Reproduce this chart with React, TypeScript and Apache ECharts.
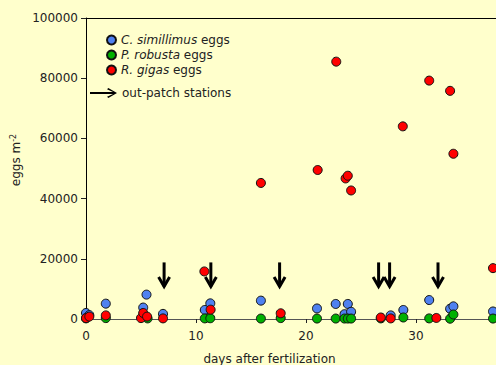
import React, { useEffect, useRef } from "react";
import * as echarts from "echarts";

// C. simillimus eggs (blue)
const cDays = [0, 0.3, 1.8, 5.2, 5.5, 7.0, 10.8, 11.3, 15.9, 21.0, 22.7, 23.5, 23.8, 24.1, 27.7, 28.85, 31.2, 33.1, 33.4, 37.0];
const cEggs = [2000, 1300, 5100, 3800, 8100, 1700, 3000, 5200, 6100, 3500, 5000, 1600, 5000, 2400, 1200, 3000, 6300, 3400, 4200, 2500];

// P. robusta eggs (green)
const pDays = [0, 1.8, 5.6, 10.8, 11.3, 15.9, 17.7, 21.0, 22.7, 23.5, 23.8, 24.1, 26.8, 28.85, 31.2, 33.1, 33.4, 37.0];
const pEggs = [200, 300, 200, 200, 250, 150, 300, 150, 150, 150, 150, 150, 200, 500, 200, 100, 1500, 150];

// R. gigas eggs (red)
const rDays = [0, 0.3, 1.8, 5.0, 5.2, 5.55, 7.0, 10.76, 11.33, 15.9, 17.7, 21.06, 22.75, 23.6, 23.8, 24.1, 26.8, 27.7, 28.8, 31.2, 31.85, 33.1, 33.4, 37.0];
const rEggs = [300, 800, 1200, 300, 2000, 800, 200, 15800, 3100, 45200, 1900, 49500, 85500, 46700, 47600, 42700, 500, 200, 64000, 79200, 350, 75800, 54900, 16900];

// out-patch stations (arrows)
const stationDays = [7.1, 11.35, 17.6, 26.6, 27.6, 32.0];
const arrowTop = 18800;
const arrowTip = 10300;

const xTicks = { min: 0, max: 40, interval: 10, lastShown: 30 };
const yTicks = { min: 0, max: 100000, interval: 20000 };

const FONT = "DejaVu Sans";
const TXT = "#222";

const zip = (xs: number[], ys: number[]) => xs.map((x, i) => [x, ys[i]]);

export default function App() {
  const ref = useRef<HTMLDivElement>(null);
  useEffect(() => {
    if (!ref.current) return;
    const chart = echarts.init(ref.current, undefined, { renderer: "svg" });
    const dot = (color: string) => ({
      color,
      borderColor: "#111",
      borderWidth: 1,
      opacity: 1,
    });
    chart.setOption({
      animation: false,
      backgroundColor: "#FFFFCC",
      textStyle: { fontFamily: FONT },
      grid: { left: 86, top: 18, width: 440, height: 301, outerBoundsMode: "none", containLabel: false },
      xAxis: [
        {
          type: "value",
          min: xTicks.min,
          max: xTicks.max,
          interval: xTicks.interval,
          splitLine: { show: false },
          axisLine: { show: true, onZero: false, lineStyle: { color: "#555", width: 1 } },
          axisTick: { show: true, length: 4, lineStyle: { color: "#222" } },
          axisLabel: {
            color: TXT,
            fontSize: 12,
            fontFamily: FONT,
            margin: 11,
            formatter: (v: number) => (v > xTicks.lastShown ? "" : String(v)),
          },
        },
        {
          type: "value",
          position: "top",
          min: xTicks.min,
          max: xTicks.max,
          splitLine: { show: false },
          axisLine: { show: true, onZero: false, lineStyle: { color: "#000", width: 1 } },
          axisTick: { show: false },
          axisLabel: { show: false },
        },
      ],
      yAxis: {
        type: "value",
        min: yTicks.min,
        max: yTicks.max,
        interval: yTicks.interval,
        splitLine: { show: false },
        axisLine: { show: true, onZero: false, lineStyle: { color: "#000", width: 1 } },
        axisTick: { show: true, length: 5, lineStyle: { color: "#222" } },
        axisLabel: {
          color: TXT,
          fontSize: 12,
          fontFamily: FONT,
          margin: 8,
          formatter: (v: number) => String(v),
        },
      },
      legend: [
        {
          orient: "vertical",
          left: 101,
          top: 29,
          itemWidth: 9,
          itemHeight: 9,
          itemGap: 3,
          icon: "circle",
          data: ["C. simillimus", "P. robusta", "R. gigas"],
          formatter: (name: string) => `{i|${name}} eggs`,
          textStyle: {
            color: TXT,
            fontSize: 12,
            fontFamily: FONT,
            rich: { i: { fontStyle: "italic", fontSize: 12, fontFamily: FONT, color: TXT } },
          },
        },
        {
          left: 85,
          top: 82,
          itemWidth: 27,
          itemHeight: 10,
          data: [
            {
              name: "out-patch stations",
              icon: "path://M0,3.9 H23 L17,1.3 L18.3,0 L27,5 L18.3,10 L17,8.7 L23,6.1 H0 Z",
            },
          ],
          textStyle: { color: TXT, fontSize: 12, fontFamily: FONT },
        },
      ],
      graphic: [
        {
          type: "text",
          x: 269.5,
          y: 359,
          style: {
            text: "days after fertilization",
            font: `12px "${FONT}"`,
            fill: TXT,
            align: "center",
            verticalAlign: "middle",
          },
        },
        {
          type: "text",
          x: 16,
          y: 160,
          rotation: Math.PI / 2,
          style: {
            text: "eggs m{sup|-2}",
            fontFamily: FONT,
            fontSize: 12,
            fill: TXT,
            align: "center",
            verticalAlign: "middle",
            rich: {
              sup: { fontSize: 8, fontFamily: FONT, fill: TXT, verticalAlign: "top", padding: [0, 0, 6, 0] },
            },
          },
        },
      ],
      series: [
        {
          name: "C. simillimus",
          type: "scatter",
          symbol: "circle",
          symbolSize: 9,
          itemStyle: dot("#4F81F0"),
          data: zip(cDays, cEggs),
          z: 3,
        },
        {
          name: "P. robusta",
          type: "scatter",
          symbol: "circle",
          symbolSize: 9,
          itemStyle: dot("#00B000"),
          data: zip(pDays, pEggs),
          z: 4,
        },
        {
          name: "R. gigas",
          type: "scatter",
          symbol: "circle",
          symbolSize: 9,
          itemStyle: dot("#FF0000"),
          data: zip(rDays, rEggs),
          z: 5,
        },
        {
          name: "out-patch stations",
          type: "custom",
          itemStyle: { color: "#000" },
          data: stationDays.map((d) => [d, arrowTop, arrowTip]),
          renderItem: (_params: any, api: any) => {
            const p0 = api.coord([api.value(0), api.value(1)]);
            const p1 = api.coord([api.value(0), api.value(2)]);
            return {
              type: "group",
              children: [
                {
                  type: "line",
                  shape: { x1: p0[0], y1: p0[1], x2: p1[0], y2: p1[1] - 1.5 },
                  style: { stroke: "#000", lineWidth: 3 },
                },
                {
                  type: "polyline",
                  shape: {
                    points: [
                      [p1[0] - 5.5, p1[1] - 11],
                      [p1[0], p1[1] - 1.5],
                      [p1[0] + 5.5, p1[1] - 11],
                    ],
                  },
                  style: { stroke: "#000", lineWidth: 3, fill: "none" },
                },
              ],
            };
          },
          z: 6,
        },
      ],
    });
    return () => chart.dispose();
  }, []);
  return (
    <div
      ref={ref}
      style={{ position: "fixed", left: 0, top: 0, width: 496, height: 365, overflow: "hidden" }}
    />
  );
}
